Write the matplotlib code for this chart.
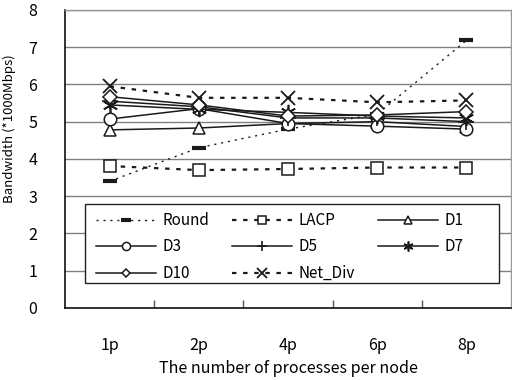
import matplotlib
matplotlib.use("Agg")
import matplotlib.pyplot as plt
from matplotlib.ticker import FixedLocator
from matplotlib.patches import Rectangle

plt.rcParams['font.family'] = ['Noto Sans CJK JP', 'DejaVu Sans']

categories = ["1p", "2p", "4p", "6p", "8p"]
round_vals = [3.40, 4.30, 4.80, 5.20, 7.18]
lacp_vals = [3.81, 3.70, 3.73, 3.77, 3.77]
d1_vals = [4.78, 4.83, 4.95, 5.00, 4.87]
d3_vals = [5.07, 5.35, 4.95, 4.88, 4.80]
d5_vals = [5.55, 5.40, 5.10, 5.10, 5.00]
d7_vals = [5.45, 5.33, 5.25, 5.15, 5.10]
d10_vals = [5.67, 5.45, 5.15, 5.18, 5.27]
netdiv_vals = [5.95, 5.64, 5.64, 5.52, 5.57]

fig = plt.figure(figsize=(5.12, 3.80), dpi=100)
ax = fig.add_axes([0.127, 0.1895, 0.871, 0.7845])

x = list(range(len(categories)))
lc = '#1a1a1a'
dot = (0, (2, 3))
h = {}
h['Round'], = ax.plot(x, round_vals, color=lc, lw=1.0, ls=(0, (1.5, 3.5)), marker='_', ms=10, mew=3, label='Round', zorder=3)
h['LACP'], = ax.plot(x, lacp_vals, color=lc, lw=1.6, ls=dot, marker='s', ms=8, mfc='white', mew=1.1, label='LACP', zorder=3)
h['D1'], = ax.plot(x, d1_vals, color=lc, lw=1.1, marker='^', ms=9, mfc='white', mew=1.1, label='D1', zorder=3)
h['D3'], = ax.plot(x, d3_vals, color=lc, lw=1.1, marker='o', ms=9, mfc='white', mew=1.1, label='D3', zorder=3)
h['D5'], = ax.plot(x, d5_vals, color=lc, lw=1.1, marker='+', ms=11, mew=1.2, label='D5', zorder=3)
h['D7'], = ax.plot(x, d7_vals, color=lc, lw=1.1, marker=(6, 2, 0), ms=11, mew=1.2, label='D7', zorder=3)
h['D10'], = ax.plot(x, d10_vals, color=lc, lw=1.1, marker='D', ms=7, mfc='white', mew=1.1, label='D10', zorder=3)
h['Net_Div'], = ax.plot(x, netdiv_vals, color=lc, lw=1.6, ls=dot, marker='x', ms=10, mew=1.3, label='Net_Div', zorder=3)

ax.set_xlim(-0.5, len(categories) - 0.5)
ax.set_ylim(0, 8)
ax.set_yticks(range(0, 9))
ax.yaxis.grid(True, color='#808080', lw=1.0)
ax.set_axisbelow(True)
ax.tick_params(axis='y', length=0, pad=20, labelsize=11.5)
ax.set_xticks(x)
ax.set_xticklabels(categories)
ax.xaxis.set_minor_locator(FixedLocator([i + 0.5 for i in range(len(categories) - 1)]))
ax.tick_params(axis='x', which='major', length=0, pad=21, labelsize=11.5)
ax.tick_params(axis='x', which='minor', direction='in', length=6, width=1, color='#555555')

for s in ['left', 'bottom']:
    ax.spines[s].set_color('#111111')
    ax.spines[s].set_linewidth(1.2)
for s in ['top', 'right']:
    ax.spines[s].set_color('#999999')
    ax.spines[s].set_linewidth(1.0)

ax.set_xlabel('The number of processes per node', fontsize=11.5, labelpad=4)
ax.set_ylabel('Bandwidth (*1000Mbps)', fontsize=9.5)
ax.yaxis.set_label_coords(-0.11, 0.6)

# legend frame
ax.add_patch(Rectangle((0.045, 0.085), 0.928, 0.264, transform=ax.transAxes,
                       facecolor='white', edgecolor='#222222', lw=1.0, zorder=4))

order = ['Round', 'D3', 'D10', 'LACP', 'D5', 'Net_Div', 'D1', 'D7']
leg = ax.legend([h[k] for k in order], order, loc='upper left',
                bbox_to_anchor=(0.07, 0.322),
                ncol=3, fontsize=11, frameon=False, handlelength=3.9,
                handletextpad=0.45, borderaxespad=0, labelspacing=0.62, borderpad=0,
                columnspacing=1.5, markerscale=0.65)
leg.set_zorder(5)

fig.savefig('out.png', dpi=100)
